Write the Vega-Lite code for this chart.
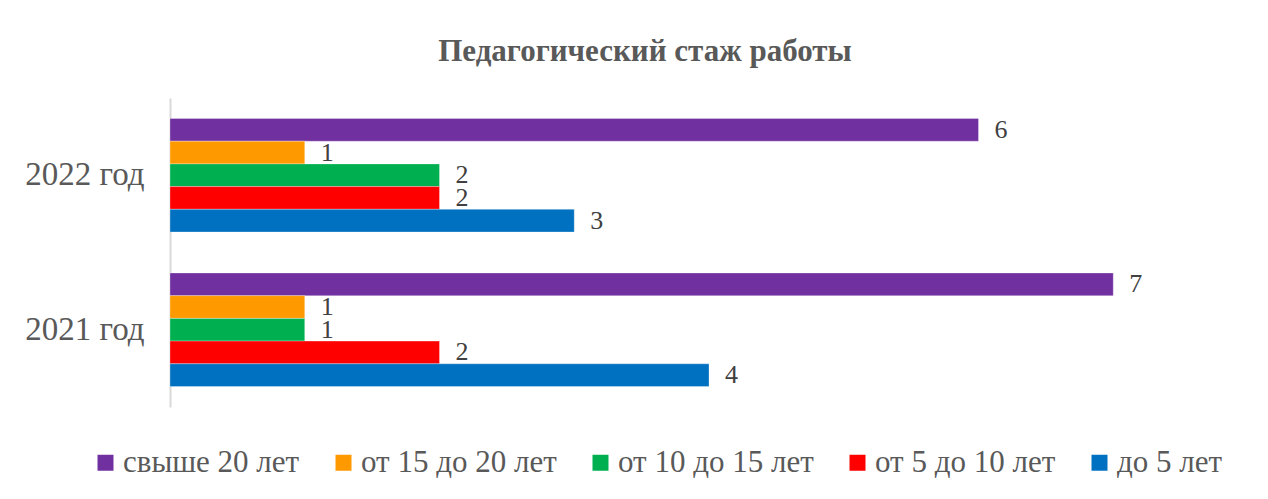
{
  "$schema": "https://vega.github.io/schema/vega-lite/v6.json",
  "width": 1078,
  "height": 309,
  "autosize": {"type": "none"},
  "padding": {"left": 170, "top": 98, "right": 20, "bottom": 92},
  "background": "white",
  "title": {
    "text": "Педагогический стаж работы",
    "font": "Liberation Serif",
    "fontSize": 31,
    "fontWeight": "bold",
    "color": "#595959",
    "anchor": "middle",
    "dx": -64,
    "offset": 30
  },
  "data": {
    "values": [
      {"year": "2022 год", "cat": "свыше 20 лет", "v": 6},
      {"year": "2022 год", "cat": "от 15 до 20 лет", "v": 1},
      {"year": "2022 год", "cat": "от 10 до 15 лет", "v": 2},
      {"year": "2022 год", "cat": "от 5 до 10 лет", "v": 2},
      {"year": "2022 год", "cat": "до 5 лет", "v": 3},
      {"year": "2021 год", "cat": "свыше 20 лет", "v": 7},
      {"year": "2021 год", "cat": "от 15 до 20 лет", "v": 1},
      {"year": "2021 год", "cat": "от 10 до 15 лет", "v": 1},
      {"year": "2021 год", "cat": "от 5 до 10 лет", "v": 2},
      {"year": "2021 год", "cat": "до 5 лет", "v": 4}
    ]
  },
  "encoding": {
    "y": {
      "field": "year",
      "type": "nominal",
      "sort": ["2022 год", "2021 год"],
      "scale": {"paddingInner": 0.265, "paddingOuter": 0.1325},
      "axis": {
        "title": null,
        "ticks": false,
        "domain": true,
        "domainColor": "#D9D9D9",
        "domainWidth": 2,
        "labelFont": "Liberation Serif",
        "labelFontSize": 33,
        "labelColor": "#595959",
        "labelPadding": 26
      }
    },
    "yOffset": {
      "field": "cat",
      "type": "nominal",
      "sort": ["свыше 20 лет", "от 15 до 20 лет", "от 10 до 15 лет", "от 5 до 10 лет", "до 5 лет"],
      "scale": {"paddingInner": 0, "paddingOuter": 0}
    },
    "x": {
      "field": "v",
      "type": "quantitative",
      "scale": {"domain": [0, 8], "nice": false},
      "axis": null
    }
  },
  "layer": [
    {
      "mark": {"type": "bar", "stroke": "white", "strokeWidth": 0.5, "strokeOpacity": 0.6},
      "encoding": {
        "color": {
          "field": "cat",
          "type": "nominal",
          "scale": {
            "domain": ["свыше 20 лет", "от 15 до 20 лет", "от 10 до 15 лет", "от 5 до 10 лет", "до 5 лет"],
            "range": ["#7030A0", "#FF9900", "#00B050", "#FF0000", "#0070C0"]
          },
          "legend": {
            "title": null,
            "orient": "none",
            "direction": "horizontal",
            "legendX": -80,
            "legendY": 349,
            "symbolType": "square",
            "symbolSize": 256,
            "symbolStrokeWidth": 0,
            "labelFont": "Liberation Serif",
            "labelFontSize": 31,
            "labelColor": "#595959",
            "labelOffset": 2,
            "columnPadding": 28,
            "labelLimit": 400
          }
        }
      }
    },
    {
      "mark": {
        "type": "text",
        "align": "left",
        "baseline": "middle",
        "dx": 16,
        "font": "Liberation Serif",
        "fontSize": 26,
        "color": "#404040"
      },
      "encoding": {
        "text": {"field": "v", "type": "quantitative"}
      }
    }
  ],
  "config": {
    "view": {"stroke": null}
  }
}
